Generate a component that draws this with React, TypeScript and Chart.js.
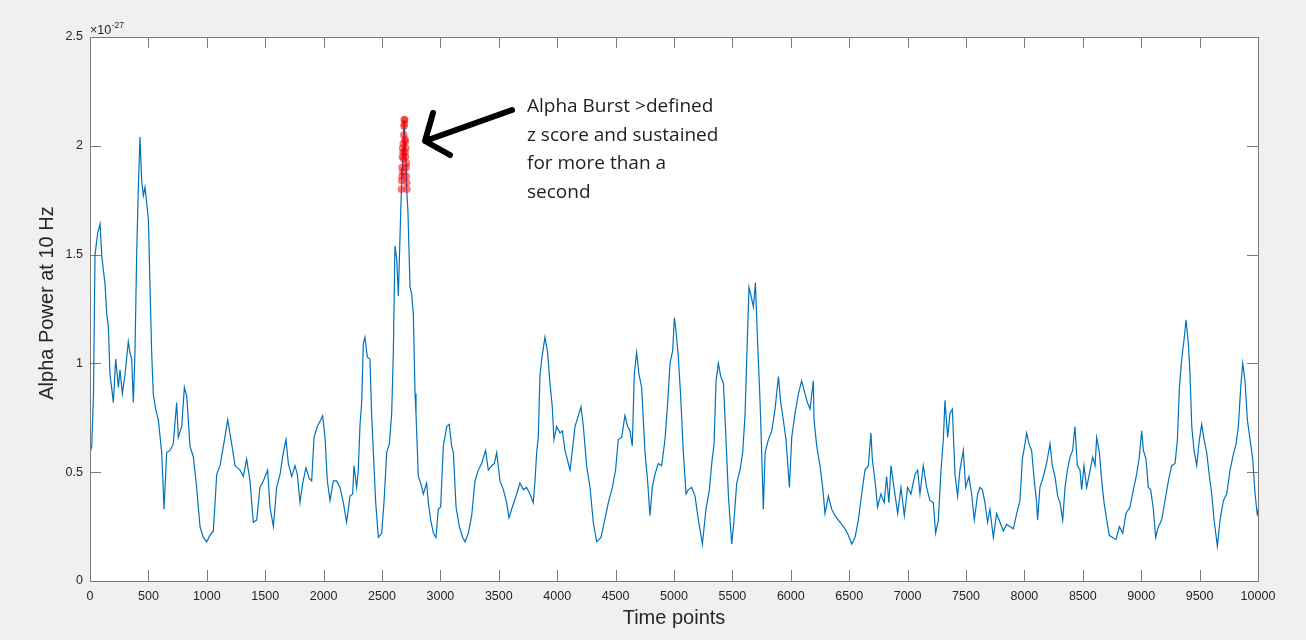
import React, { useEffect, useRef } from "react";
import { Chart, registerables } from "chart.js";

Chart.register(...registerables);

// ---- Data (time point, alpha power ×1e-27) ----
const segATimes = [0, 15, 30, 43, 66, 86, 100, 114, 128, 143, 157, 171, 185, 200, 220, 243, 257, 277, 300, 328, 342, 357, 371, 385, 400, 414, 428, 442, 457, 471, 485, 500, 514, 528, 542, 562, 585, 614, 634, 656, 685, 713, 742, 756, 785, 808, 828, 856, 885, 913, 942, 970, 999, 1027, 1056, 1085, 1113, 1142, 1179, 1213, 1242, 1284, 1313, 1341, 1370, 1398, 1427, 1455, 1484, 1521, 1541, 1570, 1598, 1627];
const segAPower = [0.59, 0.62, 0.86, 1.5, 1.6, 1.64, 1.5, 1.43, 1.37, 1.23, 1.17, 0.95, 0.89, 0.82, 1.02, 0.89, 0.97, 0.86, 0.95, 1.1, 1.05, 1.02, 0.82, 1.05, 1.51, 1.81, 2.04, 1.84, 1.77, 1.81, 1.74, 1.66, 1.35, 1.05, 0.86, 0.79, 0.74, 0.59, 0.33, 0.59, 0.6, 0.63, 0.82, 0.66, 0.71, 0.89, 0.85, 0.62, 0.57, 0.43, 0.25, 0.2, 0.18, 0.21, 0.23, 0.49, 0.53, 0.62, 0.74, 0.63, 0.53, 0.51, 0.48, 0.56, 0.46, 0.27, 0.28, 0.43, 0.46, 0.51, 0.34, 0.25, 0.43, 0.49];

const segBTimes = [1655, 1678, 1698, 1727, 1755, 1775, 1798, 1821, 1849, 1878, 1898, 1918, 1946, 1975, 1992, 2012, 2032, 2055, 2083, 2112, 2140, 2169, 2197, 2226, 2249, 2260, 2283, 2297, 2312, 2326, 2340, 2354, 2374, 2397, 2411, 2426, 2446, 2469, 2497, 2517, 2540, 2563, 2583, 2597, 2611, 2626, 2640, 2654, 2722, 2740, 2754, 2768, 2783, 2791, 2811, 2831, 2854, 2882, 2897, 2917, 2940, 2962, 2982, 3002, 3025, 3054, 3076, 3096, 3111, 3134, 3162, 3191, 3211, 3239, 3268, 3296];
const segBPower = [0.59, 0.65, 0.54, 0.48, 0.53, 0.49, 0.36, 0.45, 0.52, 0.47, 0.46, 0.66, 0.71, 0.74, 0.76, 0.66, 0.46, 0.37, 0.46, 0.46, 0.43, 0.36, 0.27, 0.39, 0.4, 0.53, 0.43, 0.51, 0.72, 0.82, 1.09, 1.12, 1.03, 1.02, 0.77, 0.59, 0.36, 0.2, 0.22, 0.36, 0.59, 0.63, 0.77, 1.05, 1.54, 1.48, 1.31, 1.58, 1.7, 1.35, 1.32, 1.23, 0.86, 0.77, 0.48, 0.45, 0.4, 0.45, 0.36, 0.28, 0.22, 0.2, 0.33, 0.34, 0.62, 0.71, 0.72, 0.62, 0.59, 0.34, 0.25, 0.2, 0.18, 0.22, 0.3, 0.46];

const segCTimes = [3325, 3353, 3387, 3410, 3439, 3462, 3482, 3510, 3539, 3567, 3587, 3616, 3653, 3681, 3710, 3738, 3767, 3795, 3810, 3824, 3838, 3852, 3867, 3895, 3918, 3938, 3958, 3972, 3995, 4024, 4044, 4067, 4095, 4110, 4130, 4152, 4181, 4204, 4224, 4252, 4281, 4309, 4338, 4375, 4403, 4438, 4472, 4500, 4523, 4552, 4580, 4603, 4623, 4643, 4660, 4680, 4700, 4723, 4752, 4774, 4794, 4814, 4837, 4866, 4894, 4923, 4946];
const segCPower = [0.51, 0.54, 0.6, 0.51, 0.53, 0.54, 0.59, 0.46, 0.42, 0.36, 0.29, 0.34, 0.4, 0.45, 0.42, 0.43, 0.4, 0.36, 0.46, 0.59, 0.66, 0.94, 1.02, 1.12, 1.05, 0.91, 0.8, 0.65, 0.71, 0.68, 0.69, 0.6, 0.54, 0.51, 0.6, 0.71, 0.76, 0.8, 0.71, 0.53, 0.43, 0.27, 0.18, 0.2, 0.27, 0.36, 0.43, 0.51, 0.65, 0.66, 0.76, 0.71, 0.69, 0.62, 0.95, 1.05, 0.95, 0.89, 0.59, 0.46, 0.3, 0.43, 0.49, 0.54, 0.53, 0.65, 0.82];

const segDTimes = [4966, 4989, 5003, 5017, 5037, 5057, 5080, 5103, 5123, 5151, 5180, 5209, 5243, 5274, 5303, 5323, 5343, 5360, 5380, 5400, 5423, 5443, 5466, 5494, 5514, 5537, 5565, 5588, 5608, 5628, 5642, 5660, 5680, 5697, 5714, 5737, 5751, 5765, 5780, 5808, 5837, 5865, 5894, 5914, 5936, 5959, 5988, 6008, 6036, 6065, 6093, 6122, 6142, 6165, 6193, 6199, 6222, 6250, 6273, 6293, 6322, 6350, 6379, 6407, 6436, 6464, 6493, 6521, 6550, 6578, 6607, 6635];
const segDPower = [1.0, 1.06, 1.21, 1.15, 1.03, 0.85, 0.59, 0.4, 0.42, 0.43, 0.39, 0.28, 0.17, 0.33, 0.42, 0.54, 0.63, 0.92, 1.0, 0.94, 0.91, 0.68, 0.39, 0.17, 0.28, 0.45, 0.51, 0.59, 0.76, 1.11, 1.35, 1.31, 1.26, 1.37, 1.12, 0.82, 0.59, 0.33, 0.59, 0.65, 0.69, 0.79, 0.94, 0.82, 0.74, 0.65, 0.43, 0.66, 0.77, 0.86, 0.92, 0.86, 0.82, 0.79, 0.92, 0.74, 0.62, 0.53, 0.43, 0.31, 0.39, 0.33, 0.3, 0.28, 0.26, 0.24, 0.21, 0.17, 0.2, 0.28, 0.4, 0.51];

const segETimes = [6664, 6686, 6698, 6721, 6743, 6772, 6800, 6820, 6840, 6858, 6886, 6915, 6943, 6972, 7000, 7029, 7063, 7086, 7106, 7134, 7163, 7191, 7220, 7240, 7263, 7286, 7306, 7320, 7343, 7363, 7383, 7406, 7428, 7448, 7477, 7497, 7525, 7548, 7571, 7600, 7620, 7640, 7662, 7685, 7705, 7734, 7762, 7791, 7819, 7848, 7876, 7905, 7934, 7962, 7982, 8005, 8019, 8039, 8062, 8085, 8105, 8113, 8133, 8162, 8190, 8219, 8239, 8262, 8285, 8305];
const segEPower = [0.53, 0.68, 0.56, 0.46, 0.34, 0.4, 0.36, 0.48, 0.36, 0.53, 0.42, 0.31, 0.43, 0.3, 0.43, 0.4, 0.49, 0.51, 0.4, 0.53, 0.43, 0.37, 0.36, 0.22, 0.28, 0.51, 0.65, 0.83, 0.66, 0.77, 0.79, 0.49, 0.39, 0.51, 0.6, 0.43, 0.48, 0.4, 0.28, 0.4, 0.43, 0.42, 0.36, 0.27, 0.33, 0.2, 0.31, 0.27, 0.23, 0.26, 0.25, 0.24, 0.31, 0.37, 0.56, 0.63, 0.68, 0.63, 0.6, 0.46, 0.36, 0.28, 0.43, 0.48, 0.54, 0.63, 0.53, 0.48, 0.39, 0.36];

const segFTimes = [8328, 8348, 8368, 8391, 8413, 8433, 8453, 8476, 8490, 8510, 8533, 8556, 8585, 8605, 8619, 8642, 8662, 8682, 8705, 8727, 8756, 8784, 8813, 8842, 8870, 8904, 8933, 8961, 8984, 9004, 9019, 9041, 9061, 9081, 9104, 9124, 9147, 9175, 9204, 9233, 9261, 9290, 9310, 9327, 9347, 9367, 9384, 9404, 9418, 9433, 9452, 9475, 9498, 9518, 9538, 9561, 9584, 9604, 9624, 9652, 9675, 9704, 9732, 9761, 9784, 9812, 9832, 9852, 9869, 9889, 9909, 9932, 9955, 9975, 9995, 10000];
const segFPower = [0.28, 0.43, 0.51, 0.57, 0.6, 0.71, 0.53, 0.51, 0.42, 0.53, 0.43, 0.49, 0.57, 0.53, 0.66, 0.59, 0.46, 0.36, 0.28, 0.21, 0.2, 0.19, 0.25, 0.22, 0.31, 0.34, 0.42, 0.49, 0.57, 0.69, 0.6, 0.56, 0.43, 0.42, 0.33, 0.2, 0.25, 0.28, 0.37, 0.46, 0.53, 0.54, 0.65, 0.89, 1.02, 1.11, 1.2, 1.09, 0.95, 0.71, 0.6, 0.53, 0.65, 0.72, 0.65, 0.59, 0.48, 0.4, 0.28, 0.16, 0.28, 0.37, 0.4, 0.51, 0.57, 0.63, 0.71, 0.89, 1.0, 0.92, 0.74, 0.65, 0.56, 0.4, 0.3, 0.33];

// Alpha burst samples (marked red)
const burstTimes = [2666, 2668, 2670, 2672, 2674, 2676, 2678, 2680, 2682, 2684, 2686, 2688, 2690, 2692, 2694, 2696, 2698, 2700, 2702, 2704, 2706, 2708, 2710, 2712, 2714];
const burstPower = [1.8, 1.84, 1.9, 1.86, 1.95, 1.99, 1.88, 1.97, 2.01, 1.94, 2.05, 2.09, 2.12, 2.1, 2.12, 2.03, 1.97, 2.02, 1.95, 1.99, 1.9, 1.86, 1.92, 1.83, 1.8];

// Axis / text content
const xTickStep = 500;
const xRange = [0, 10000];
const yTickStep = 0.5;
const yRange = [0, 2.5];
const xAxisTitle = "Time points";
const yAxisTitle = "Alpha Power at 10 Hz";
const exponentBase = "\u00d710";
const exponentPower = "-27";
const annotationLines = ["Alpha Burst >defined", "z score and sustained", "for more than a", "second"];

const BLUE = "#0072BD";
const AXIS = "#7a7a7a";
const TEXT = "#262626";
const SANS = "'Liberation Sans', Arial, Helvetica, sans-serif";

function pairs(ts: number[], vs: number[]) {
  return ts.map((t, i) => ({ x: t, y: vs[i] }));
}

export default function App() {
  const ref = useRef<HTMLCanvasElement | null>(null);

  useEffect(() => {
    const canvas = ref.current;
    if (!canvas) return;

    const lineData = [
      ...pairs(segATimes, segAPower),
      ...pairs(segBTimes, segBPower),
      ...pairs(burstTimes, burstPower),
      ...pairs(segCTimes, segCPower),
      ...pairs(segDTimes, segDPower),
      ...pairs(segETimes, segEPower),
      ...pairs(segFTimes, segFPower),
    ].sort((a, b) => a.x - b.x);

    const decor = {
      id: "matlabDecor",
      beforeDraw(chart: any) {
        const { ctx, chartArea: a } = chart;
        ctx.save();
        ctx.fillStyle = "#f0f0f0";
        ctx.fillRect(0, 0, chart.width, chart.height);
        ctx.fillStyle = "#ffffff";
        ctx.fillRect(a.left, a.top, a.right - a.left, a.bottom - a.top);
        ctx.restore();
      },
      beforeDatasetsDraw(chart: any) {
        const { ctx, chartArea: a, scales } = chart;
        const xs = scales.x;
        const ys = scales.y;
        ctx.save();
        ctx.strokeStyle = AXIS;
        ctx.lineWidth = 1;
        const tl = 11;
        ctx.beginPath();
        xs.ticks.forEach((t: any) => {
          const px = Math.round(xs.getPixelForValue(t.value)) + 0.5;
          ctx.moveTo(px, a.bottom);
          ctx.lineTo(px, a.bottom - tl);
          ctx.moveTo(px, a.top);
          ctx.lineTo(px, a.top + tl);
        });
        ys.ticks.forEach((t: any) => {
          const py = Math.round(ys.getPixelForValue(t.value)) + 0.5;
          ctx.moveTo(a.left, py);
          ctx.lineTo(a.left + tl, py);
          ctx.moveTo(a.right, py);
          ctx.lineTo(a.right - tl, py);
        });
        ctx.stroke();
        ctx.restore();
      },
      afterDraw(chart: any) {
        const { ctx, chartArea: a } = chart;
        ctx.save();
        // box
        ctx.strokeStyle = AXIS;
        ctx.lineWidth = 1;
        ctx.strokeRect(Math.round(a.left) + 0.5, Math.round(a.top) + 0.5, Math.round(a.right - a.left), Math.round(a.bottom - a.top));

        // exponent
        ctx.fillStyle = TEXT;
        ctx.textBaseline = "alphabetic";
        ctx.textAlign = "left";
        ctx.font = `12.5px ${SANS}`;
        ctx.fillText(exponentBase, a.left, 34);
        const w = ctx.measureText(exponentBase).width;
        ctx.font = `8.5px ${SANS}`;
        ctx.fillText(exponentPower, a.left + w + 0.5, 27.5);

        // axis titles
        ctx.font = `20px ${SANS}`;
        ctx.textAlign = "center";
        ctx.textBaseline = "middle";
        ctx.fillText(xAxisTitle, (a.left + a.right) / 2, 618);
        ctx.save();
        ctx.translate(47, 303);
        ctx.rotate(-Math.PI / 2);
        ctx.fillText(yAxisTitle, 0, 0);
        ctx.restore();

        // annotation text
        ctx.fillStyle = "#1e1e1e";
        ctx.font = `19px 'Open Sans', 'Noto Sans', sans-serif`;
        ctx.textAlign = "left";
        ctx.textBaseline = "alphabetic";
        annotationLines.forEach((line, i) => {
          ctx.fillText(line, 527, 112 + i * 28.5);
        });

        // hand-drawn arrow
        ctx.strokeStyle = "#000000";
        ctx.lineWidth = 6;
        ctx.lineCap = "round";
        ctx.lineJoin = "round";
        ctx.beginPath();
        ctx.moveTo(512, 110);
        ctx.lineTo(425, 141);
        ctx.moveTo(433, 113);
        ctx.lineTo(425, 141);
        ctx.lineTo(450, 155);
        ctx.stroke();
        ctx.restore();
      },
    };

    const chart = new Chart(canvas, {
      type: "line",
      data: {
        datasets: [
          {
            label: "burst",
            data: pairs(burstTimes, burstPower),
            showLine: false,
            pointRadius: 3.5,
            pointBorderWidth: 0.5,
            pointBackgroundColor: "rgba(255,0,0,0.5)",
            pointBorderColor: "rgba(255,0,0,0.5)",
            order: 0,
          },
          {
            label: "alpha",
            data: lineData,
            borderColor: BLUE,
            borderWidth: 1.2,
            pointRadius: 0,
            tension: 0,
            fill: false,
            order: 1,
          },
        ],
      },
      plugins: [decor],
      options: {
        animation: false,
        responsive: false,
        maintainAspectRatio: false,
        devicePixelRatio: 1,
        layout: { padding: { top: 37, right: 48, left: 0, bottom: 0 } },
        plugins: { legend: { display: false }, tooltip: { enabled: false } },
        scales: {
          x: {
            type: "linear",
            min: xRange[0],
            max: xRange[1],
            afterFit: (s: any) => {
              s.height = 59;
            },
            grid: { display: false, drawTicks: false },
            border: { display: false },
            ticks: {
              stepSize: xTickStep,
              autoSkip: false,
              maxRotation: 0,
              padding: 8,
              color: TEXT,
              font: { family: SANS, size: 12.5 },
              callback: (v: any) => String(v),
            },
          },
          y: {
            type: "linear",
            min: yRange[0],
            max: yRange[1],
            afterFit: (s: any) => {
              s.width = 90;
            },
            grid: { display: false, drawTicks: false },
            border: { display: false },
            ticks: {
              stepSize: yTickStep,
              padding: 7,
              color: TEXT,
              font: { family: SANS, size: 12.5 },
              callback: (v: any) => String(Math.round(v * 10) / 10),
            },
          },
        },
      },
    });

    return () => chart.destroy();
  }, []);

  return (
    <div style={{ position: "absolute", left: 0, top: 0, width: 1306, height: 640, background: "#f0f0f0" }}>
      <canvas ref={ref} width={1306} height={640} style={{ display: "block", width: 1306, height: 640 }} />
    </div>
  );
}
